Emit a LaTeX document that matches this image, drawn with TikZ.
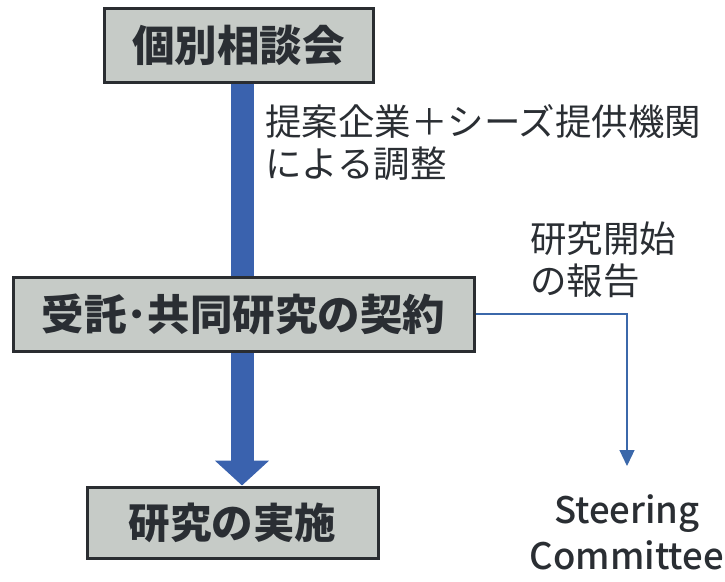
\documentclass[tikz,border=0pt]{standalone}
\usepackage{fontspec}
\newfontfamily\cjk{Noto Sans CJK JP}
\newfontfamily\cjkmed{Noto Sans CJK JP Medium}
\usetikzlibrary{arrows.meta}
\definecolor{boxfill}{HTML}{C6CBC7}
\definecolor{boxline}{HTML}{2A2D31}
\definecolor{txt}{HTML}{2A2E33}
\definecolor{bigblue}{HTML}{3A62AE}
\definecolor{thinblue}{HTML}{3B68AA}
\tikzset{
  stagebox/.style={draw=boxline, line width=3pt, fill=boxfill, text=txt,
    font=\cjk\bfseries\fontsize{42.5}{47}\selectfont, inner sep=0pt},
  label/.style={text=txt, font=\cjk\fontsize{36.5}{42}\selectfont, align=left, inner sep=0pt},
  bigarrow/.style={draw=bigblue, line width=23pt, -{Triangle[width=53pt,length=25pt]}},
  thinarrow/.style={draw=thinblue, line width=1.2pt, -{Triangle[width=15pt,length=16pt]}}
}
\begin{document}
\begin{tikzpicture}[x=1pt,y=-1pt]
\useasboundingbox (0,0) rectangle (725,581);
\coordinate (ax) at (242,0);
\node[stagebox, minimum width=269pt, minimum height=74pt] (b1) at (238.5,45) {個別相談会};
\node[stagebox, minimum width=291pt, minimum height=71pt, font=\cjk\bfseries\fontsize{41.5}{47}\selectfont] (b3) at (232.5,522.5) {研究の実施};
\draw[bigarrow] (b1.south -| ax) -- (b3.north -| ax);
\node[stagebox, minimum width=461pt, minimum height=74pt] (b2) at (243.5,314) {受託･共同研究の契約};
\node[label, anchor=north west] (l1) at (265,104) {提案企業＋シーズ提供機関\\による調整};
\node[label, anchor=north west] (l2) at (530,222) {研究開始\\の報告};
\node[text=txt, font=\cjkmed\fontsize{36.5}{46}\selectfont, align=center, inner sep=0pt, anchor=north] (sc) at (627,494) {Steering\\Committee};
\draw[thinarrow, shorten >=28pt] (b2.east) -| (sc.north);
\end{tikzpicture}
\end{document}
